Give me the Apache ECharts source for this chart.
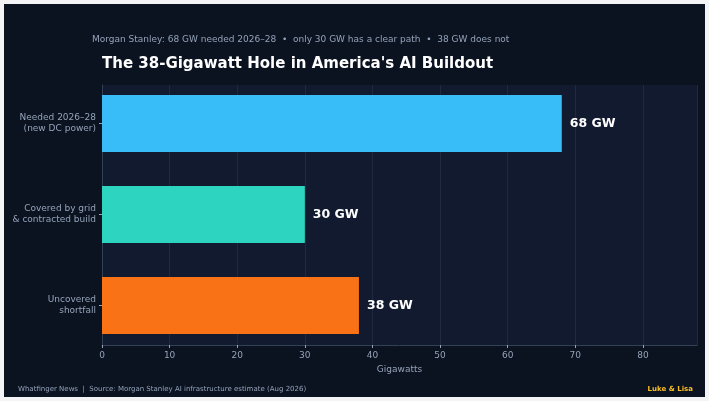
<!DOCTYPE html>
<html>
<head>
<meta charset="utf-8">
<script src="https://cdn.jsdelivr.net/npm/echarts@6/dist/echarts.min.js"></script>
<style>
html, body { margin: 0; padding: 0; background: #f4f4f6; }
#chart { position: absolute; left: 4px; top: 4px; width: 701px; height: 393px; background: #0b1220; }
</style>
</head>
<body>
<div id="chart"></div>
<script>
var categories = ['Needed 2026–28\n(new DC power)', 'Covered by grid\n& contracted build', 'Uncovered\nshortfall'];
var values = [68, 30, 38];
var colors = ['#38bdf8', '#2dd4bf', '#f97316'];

var chart = echarts.init(document.getElementById('chart'));
chart.setOption({
    animation: false,
    textStyle: { fontFamily: 'DejaVu Sans' },
    grid: [
        { left: 98, right: 8, top: 81, bottom: 52, backgroundColor: '#111a2e', show: true, borderWidth: 0 },
        { left: 98, right: 8, top: 74, bottom: 46 }
    ],
    graphic: [
        { type: 'text', left: 88, top: 31, style: { text: 'Morgan Stanley: 68 GW needed 2026–28  •  only 30 GW has a clear path  •  38 GW does not', fill: '#94a3b8', font: '9px DejaVu Sans' } },
        { type: 'text', left: 98, top: 53, style: { text: "The 38-Gigawatt Hole in America's AI Buildout", fill: '#ffffff', font: 'bold 15px DejaVu Sans' } },
        { type: 'text', left: 14, top: 382, style: { text: 'Whatfinger News  |  Source: Morgan Stanley AI infrastructure estimate (Aug 2026)', fill: '#94a3b8', font: '7px DejaVu Sans' } },
        { type: 'text', right: 12, top: 382, style: { text: 'Luke & Lisa', fill: '#fbbf24', font: 'bold 7px DejaVu Sans' } }
    ],
    xAxis: [{
        gridIndex: 0, type: 'value', min: 0, max: 88, interval: 10,
        name: 'Gigawatts', nameLocation: 'middle', nameGap: 16,
        nameTextStyle: { color: '#94a3b8', fontSize: 9 },
        axisLabel: { color: '#94a3b8', fontSize: 9, margin: 6, showMaxLabel: false },
        axisLine: { show: true, lineStyle: { color: '#334155' } },
        axisTick: { show: true, length: 3, lineStyle: { color: '#94a3b8' } },
        splitLine: { lineStyle: { color: '#1f2a40' } }
    }, {
        gridIndex: 1, type: 'value', min: 0, max: 88, show: false
    }],
    yAxis: [{
        gridIndex: 0, type: 'value', min: 0, max: 1, show: true,
        axisLabel: { show: false }, axisTick: { show: false }, splitLine: { show: false },
        axisLine: { show: true, lineStyle: { color: '#334155' } }
    }, {
        gridIndex: 1, type: 'category', inverse: true, data: categories,
        axisLabel: { color: '#94a3b8', fontSize: 9, lineHeight: 11, margin: 6, align: 'right' },
        axisLine: { show: false },
        axisTick: { show: true, alignWithLabel: true, length: 3, lineStyle: { color: '#94a3b8' } }
    }],
    series: [{
        type: 'bar', xAxisIndex: 1, yAxisIndex: 1, barWidth: 57,
        data: values.map(function (v, i) { return { value: v, itemStyle: { color: colors[i] } }; }),
        label: { show: true, position: 'right', distance: 8, color: '#ffffff', fontWeight: 'bold', fontSize: 12.5, formatter: '{c} GW' }
    }]
});
</script>
</body>
</html>
